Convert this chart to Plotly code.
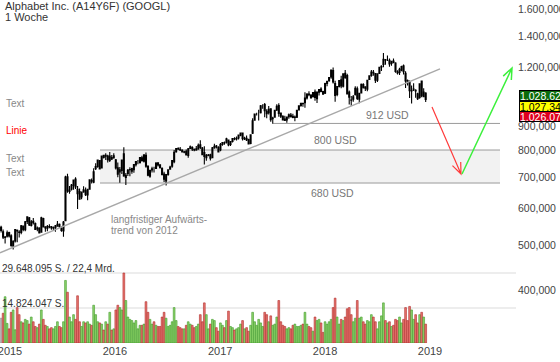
import numpy as np
import pandas as pd
import plotly.graph_objects as go

FONT = "Liberation Sans, Arial, sans-serif"
W, H = 560, 362
PW, PH = 516, 343  # plot area in pixels (l=0, t=0)

# ---------------- data (weekly GOOGL, weeks starting Monday 2014-12-01) ----------------
first_week = "2014-12-01"

opens = [
    547, 535, 520, 523, 533,
    524, 499, 511, 539, 534, 533, 550, 540, 563, 573, 552, 563, 557, 542, 545, 534, 571, 548, 544, 549,
    548, 546, 545, 550, 555, 544, 537, 565, 701, 652, 660, 672, 693, 645, 652, 635, 651, 655, 641, 660,
    688, 683, 730, 738, 760, 732, 779, 776, 777, 760, 771, 770,
    762, 733, 718, 723, 785, 699, 713, 727, 721, 726, 744, 756, 752, 770, 757, 779, 738, 703, 725, 728,
    731, 751, 744, 730, 711, 687, 709, 728, 739, 755, 793, 806, 803, 799, 791, 795, 779, 806, 810, 803,
    800, 804, 821, 808, 790, 770, 779, 781, 770, 808, 816, 810,
    800, 822, 829, 831, 840, 822, 835, 847, 845, 849, 861, 870, 845, 848, 842, 826, 869, 927, 955, 955,
    962, 996, 1001, 968, 961, 980, 933, 940, 975, 996, 960, 944, 932, 928, 943, 950, 945, 939, 940, 975,
    996, 1007, 1010, 1034, 1054, 1049, 1040, 1064, 1030, 1064, 1080, 1067,
    1058, 1110, 1125, 1147, 1183, 1110, 1052, 1094, 1130, 1095, 1168, 1155, 1065, 1022, 1027, 1050, 1082,
    1027, 1060, 1104, 1092, 1080, 1132, 1155, 1173, 1166, 1129, 1167, 1204, 1219, 1250, 1249, 1244, 1226,
    1240, 1228, 1175, 1172, 1185, 1212, 1168, 1126, 1117, 1070, 1080, 1073, 1055, 1036, 1124, 1040, 1059,
]
highs = [
    551, 541, 524, 538, 535,
    528, 513, 542, 541, 539, 553, 551, 564, 577, 575, 567, 572, 560, 549, 547, 576, 573, 549, 553, 555,
    550, 549, 553, 564, 557, 549, 564, 705, 712, 670, 677, 692, 700, 670, 662, 651, 669, 665, 661, 692,
    695, 731, 750, 762, 761, 778, 782, 787, 782, 792, 781, 787,
    765, 752, 736, 763, 811, 714, 729, 735, 733, 746, 756, 762, 772, 778, 783, 790, 742, 726, 737, 737,
    753, 752, 745, 735, 719, 711, 727, 740, 761, 800, 808, 811, 812, 803, 797, 802, 808, 818, 815, 806,
    816, 826, 839, 812, 815, 784, 784, 785, 812, 825, 820, 815,
    828, 831, 834, 850, 843, 836, 847, 852, 855, 864, 872, 872, 854, 859, 846, 864, 935, 958, 961, 975,
    999, 1002, 1008, 978, 994, 982, 942, 976, 1002, 1007, 962, 950, 947, 943, 958, 960, 956, 948, 974, 997,
    1010, 1010, 1063, 1058, 1068, 1053, 1065, 1078, 1068, 1080, 1090, 1071,
    1114, 1124, 1145, 1187, 1201, 1125, 1096, 1129, 1154, 1165, 1186, 1165, 1073, 1044, 1049, 1095, 1094,
    1061, 1110, 1112, 1095, 1131, 1156, 1187, 1187, 1168, 1166, 1205, 1215, 1291, 1252, 1274, 1256, 1240,
    1256, 1233, 1185, 1200, 1212, 1219, 1180, 1132, 1127, 1099, 1112, 1079, 1061, 1110, 1125, 1084, 1063,
]
lows = [
    533, 516, 505, 520, 520,
    497, 490, 507, 508, 520, 528, 536, 536, 556, 550, 549, 554, 540, 536, 530, 532, 546, 535, 536, 544,
    540, 538, 535, 549, 545, 535, 522, 563, 648, 645, 655, 658, 660, 598, 626, 628, 648, 638, 625, 659,
    678, 679, 725, 733, 729, 730, 767, 762, 752, 754, 762, 766,
    727, 700, 681, 711, 701, 673, 704, 703, 712, 715, 738, 746, 749, 756, 752, 733, 703, 698, 716, 716,
    729, 738, 730, 706, 683, 672, 705, 727, 733, 750, 789, 800, 796, 790, 787, 780, 770, 804, 796, 795,
    797, 801, 804, 780, 745, 759, 776, 760, 768, 805, 806, 791,
    795, 817, 821, 826, 815, 816, 830, 839, 838, 843, 856, 838, 840, 836, 822, 823, 866, 924, 948, 925,
    958, 980, 940, 935, 953, 920, 912, 938, 969, 942, 937, 925, 924, 915, 933, 939, 935, 922, 937, 972,
    990, 990, 985, 1026, 1043, 1030, 1036, 1020, 1008, 1046, 1063, 1052,
    1054, 1095, 1120, 1137, 1110, 1015, 1043, 1088, 1085, 1089, 1136, 1052, 1001, 995, 1015, 1047, 1023,
    1007, 1057, 1083, 1070, 1069, 1130, 1148, 1154, 1113, 1119, 1164, 1181, 1203, 1218, 1240, 1205, 1211,
    1226, 1170, 1160, 1158, 1180, 1160, 1086, 1100, 1034, 1006, 1070, 1035, 1023, 1030, 1038, 1038, 1013,
]
closes = [
    538, 521, 521, 532, 524,
    500, 510, 541, 537, 533, 551, 541, 562, 576, 553, 562, 559, 541, 545, 532, 573, 548, 545, 549, 548,
    545, 545, 551, 555, 549, 538, 561, 700, 654, 657, 673, 690, 667, 659, 628, 650, 658, 642, 659, 691,
    686, 719, 737, 761, 729, 777, 771, 779, 763, 777, 766, 778,
    732, 710, 726, 761, 704, 706, 724, 726, 730, 745, 756, 756, 771, 759, 781, 739, 707, 724, 729, 728,
    750, 743, 733, 709, 693, 709, 726, 736, 760, 791, 806, 804, 800, 792, 793, 781, 805, 813, 804, 800,
    805, 819, 810, 782, 775, 779, 780, 768, 809, 815, 812, 792,
    822, 830, 828, 845, 820, 834, 846, 845, 848, 861, 870, 846, 848, 841, 824, 862, 924, 955, 955, 955,
    995, 996, 971, 957, 978, 929, 936, 973, 992, 958, 945, 928, 926, 941, 951, 943, 939, 941, 973, 995,
    1007, 1005, 1033, 1054, 1050, 1035, 1062, 1037, 1063, 1077, 1068, 1053,
    1110, 1123, 1143, 1187, 1119, 1047, 1093, 1127, 1097, 1165, 1142, 1054, 1038, 1023, 1040, 1084, 1031,
    1058, 1106, 1088, 1085, 1128, 1153, 1175, 1169, 1129, 1164, 1202, 1209, 1251, 1246, 1249, 1222, 1238,
    1232, 1178, 1170, 1190, 1207, 1177, 1124, 1115, 1072, 1072, 1079, 1070, 1030, 1109, 1046, 1064, 1026,
]
volumes_mio = [
    10.5, 12.6, 19.6, 8.3, 6.0,
    13.0, 14.0, 5.6, 15.0, 12.0, 9.0, 8.5, 10.0, 9.5, 8.0, 11.0, 9.0, 7.0, 6.5, 8.0, 14.0, 10.0, 7.5, 7.0, 6.0,
    6.5, 6.0, 7.0, 9.0, 7.0, 6.5, 9.0, 26.5, 21.5, 11.0, 9.0, 12.0, 10.0, 20.0, 9.0, 7.0, 9.0, 8.5, 9.0, 8.0,
    7.5, 16.0, 12.0, 9.0, 8.5, 8.0, 5.5, 9.0, 8.0, 13.0, 5.5, 6.0,
    14.0, 16.0, 15.0, 14.0, 29.648, 18.0, 11.0, 10.0, 9.5, 8.5, 9.5, 6.0, 7.5, 7.5, 8.0, 17.5, 13.0, 10.0, 8.0, 9.0,
    7.5, 7.0, 7.0, 11.0, 13.0, 10.5, 7.0, 7.5, 9.0, 15.0, 9.5, 7.0, 6.5, 6.0, 6.0, 7.5, 9.0, 8.0, 7.5, 6.5,
    7.0, 8.0, 12.0, 9.0, 17.0, 12.0, 6.0, 8.0, 10.0, 9.5, 6.5, 5.0,
    8.5, 7.5, 6.5, 9.5, 13.5, 7.0, 6.5, 5.5, 6.0, 6.5, 8.0, 9.5, 6.0, 6.5, 5.0, 7.5, 13.0, 9.0, 7.5, 10.0,
    8.5, 7.0, 13.0, 12.0, 9.0, 11.5, 7.5, 8.0, 11.0, 18.0, 9.0, 7.5, 7.0, 6.0, 6.5, 6.0, 7.5, 8.0, 7.0, 7.0,
    7.5, 8.0, 13.0, 8.0, 7.0, 6.5, 5.0, 11.0, 9.5, 10.0, 8.5, 4.5,
    9.0, 8.0, 9.0, 10.0, 15.0, 19.0, 11.0, 8.0, 10.0, 9.5, 11.0, 14.5, 15.0, 12.0, 9.0, 10.5, 18.0,
    10.5, 11.0, 9.0, 8.0, 9.5, 9.0, 12.0, 11.0, 9.0, 6.0, 9.0, 11.5, 17.0, 9.5, 8.5, 9.0, 7.0,
    7.5, 10.0, 9.5, 11.0, 8.5, 10.0, 15.0, 9.5, 15.5, 14.0, 10.0, 12.0, 8.5, 12.0, 13.0, 11.0, 8.0,
]

vol_max_label = "29.648.095 S. / 22,4 Mrd."
vol_half_label = "14.824.047 S."
vol_grid_mio = [14.824047, 29.648095]

price_ticks = [400, 500, 600, 700, 800, 900, 1200, 1400, 1600]
price_ticktext = ["400,000", "500,000", "600,000", "700,000", "800,000", "900,000",
                  "1.200,000", "1.400,000", "1.600,000"]
year_ticks = ["2015-01-01", "2016-01-01", "2017-01-01", "2018-01-01", "2019-01-01"]
year_text = ["2015", "2016", "2017", "2018", "2019"]

levels = [912, 800, 680]
level_labels = ["912 USD", "800 USD", "680 USD"]
trend_prices = [482, 1193]
last_prices = ["1.028,62", "1.027,34", "1.026,07"]

dates = pd.date_range(first_week, periods=len(closes), freq="W-MON")
assert len(opens) == len(highs) == len(lows) == len(closes) == len(volumes_mio) == len(dates)

# volume colours: vs previous close
vol_fill, vol_line = [], []
for i, c in enumerate(closes):
    if i == 0:
        vol_fill.append("#c8c8c8"); vol_line.append("#8a8a8a")
    elif c >= closes[i - 1]:
        vol_fill.append("#8fd46c"); vol_line.append("#3f9a2a")
    else:
        vol_fill.append("#e8766f"); vol_line.append("#b02a2a")

# ---------------- pixel calibration ----------------
X0_DATE = pd.Timestamp("2015-01-01")
X0_PX = 10.0
PX_PER_DAY = (430.0 - 10.0) / 1461.0
x_start = X0_DATE - pd.Timedelta(days=X0_PX / PX_PER_DAY)
x_end = X0_DATE + pd.Timedelta(days=(PW - X0_PX) / PX_PER_DAY)

A_, B_ = 1507.0, 203.0  # py = A - B*ln(price)
ylog_range = [(A_ - PH) / B_ / np.log(10), A_ / B_ / np.log(10)]
vol_range = [0, PH / 70.0 * 29.648095]


def px(x):
    return x / PW


def py(y):
    return (PH - y) / PH


fig = go.Figure()

fig.add_trace(go.Bar(
    x=dates, y=volumes_mio, yaxis="y2",
    marker=dict(color=vol_fill, line=dict(color=vol_line, width=0.6)),
    hoverinfo="skip", showlegend=False,
))

fig.add_trace(go.Candlestick(
    x=dates, open=opens, high=highs, low=lows, close=closes,
    increasing=dict(line=dict(color="#000000", width=1.1), fillcolor="#ffffff"),
    decreasing=dict(line=dict(color="#000000", width=1.1), fillcolor="#000000"),
    whiskerwidth=0, showlegend=False, hoverinfo="skip",
))

shapes = []
# volume gridlines
for v in vol_grid_mio:
    shapes.append(dict(type="line", xref="paper", yref="y2", x0=0, x1=1, y0=v, y1=v,
                       line=dict(color="#dcdcdc", width=1.2), layer="below"))
# support box 680-800
shapes.append(dict(type="rect", xref="paper", yref="y", x0=px(100), x1=px(500),
                   y0=levels[2], y1=levels[1], fillcolor="#f2f2f2", line=dict(width=0), layer="below"))
shapes.append(dict(type="line", xref="paper", yref="y", x0=px(100), x1=px(500),
                   y0=levels[1], y1=levels[1], line=dict(color="#9a9a9a", width=1), layer="below"))
shapes.append(dict(type="line", xref="paper", yref="y", x0=px(100), x1=px(500),
                   y0=levels[2], y1=levels[2], line=dict(color="#9a9a9a", width=1), layer="below"))
shapes.append(dict(type="line", xref="paper", yref="y", x0=px(272), x1=px(500),
                   y0=levels[0], y1=levels[0], line=dict(color="#9a9a9a", width=1), layer="below"))
# long-term trend line
shapes.append(dict(type="line", xref="paper", yref="y", x0=0, x1=px(440),
                   y0=trend_prices[0], y1=trend_prices[1], line=dict(color="#a8a8a8", width=1.4)))


def arrow(p0, p1, color, width):
    p0 = np.array(p0, float); p1 = np.array(p1, float)
    d = p1 - p0
    ang = np.arctan2(d[1], d[0]) + np.pi
    L, half = 12.0, np.deg2rad(22)
    a1 = p1 + L * np.array([np.cos(ang - half), np.sin(ang - half)])
    a2 = p1 + L * np.array([np.cos(ang + half), np.sin(ang + half)])
    path = (f"M {px(p0[0])} {py(p0[1])} L {px(p1[0])} {py(p1[1])} "
            f"M {px(a1[0])} {py(a1[1])} L {px(p1[0])} {py(p1[1])} L {px(a2[0])} {py(a2[1])}")
    return dict(type="path", xref="paper", yref="paper", path=path,
                line=dict(color=color, width=width))


shapes.append(arrow((432, 107), (461, 174), "#ff3b3b", 1.2))
shapes.append(arrow((462, 174), (512, 68), "#3cf03c", 1.5))

ann = []


def txt(t, x, y, size=10, color="#888888", xanchor="left"):
    ann.append(dict(text=t, x=px(x), y=py(y), xref="paper", yref="paper", showarrow=False,
                    xanchor=xanchor, yanchor="middle", font=dict(size=size, color=color, family=FONT)))


txt("Alphabet Inc. (A14Y6F) (GOOGL)", 3, 6.5, 11, "#333333")
txt("1 Woche", 3, 17, 11, "#333333")
txt("Text", 4, 103, 10, "#888888")
txt("Linie", 4, 130, 10, "#ff0000")
txt("Text", 4, 158, 10, "#888888")
txt("Text", 4, 172, 10, "#888888")
txt(level_labels[0], 364, 115, 10.5, "#777777")
txt(level_labels[1], 312, 140, 10.5, "#777777")
txt(level_labels[2], 309, 193, 10.5, "#777777")
txt("langfristiger Aufwärts-", 109, 219, 10, "#888888")
txt("trend von 2012", 109, 230, 10, "#888888")
txt(vol_max_label, 0, 268, 10, "#333333")
txt(vol_half_label, 0, 303, 10, "#333333")

box_styles = [("#0b6b0b", "#ffffff", 95), ("#ffff00", "#000000", 106), ("#e0001e", "#ffffff", 117)]
for label, (bg, fg, yc) in zip(last_prices, box_styles):
    ann.append(dict(text=label, x=px(519), y=py(yc), xref="paper", yref="paper", showarrow=False,
                    xanchor="left", yanchor="middle", align="left", width=46, height=9,
                    bgcolor=bg, bordercolor="#000000", borderwidth=1, borderpad=0,
                    font=dict(size=10.5, color=fg, family=FONT)))

fig.update_layout(
    template="none",
    width=W, height=H, autosize=False,
    margin=dict(l=0, r=W - PW, t=0, b=H - PH, pad=0, autoexpand=False),
    paper_bgcolor="#ffffff", plot_bgcolor="#ffffff",
    showlegend=False, bargap=0.12,
    font=dict(family=FONT, size=11, color="#444444"),
    xaxis=dict(type="date", range=[x_start, x_end], rangeslider=dict(visible=False),
               tickvals=year_ticks, ticktext=year_text, showgrid=False, zeroline=False,
               showline=False, ticks="", ticklabeloverflow="allow", automargin=False,
               tickfont=dict(size=11, color="#444444")),
    yaxis=dict(type="log", side="right", range=ylog_range, tickvals=price_ticks,
               ticktext=price_ticktext, showgrid=False, zeroline=False, showline=False,
               ticks="", ticklabeloverflow="allow", automargin=False, ticklabelstandoff=1,
               tickfont=dict(size=10.5, color="#444444")),
    yaxis2=dict(overlaying="y", range=vol_range, visible=False, showgrid=False,
                fixedrange=True, automargin=False),
    shapes=shapes, annotations=ann,
)

fig.write_html("out.html", config={"displayModeBar": False},
               post_script="document.body.style.margin='0';document.body.style.padding='0';")
